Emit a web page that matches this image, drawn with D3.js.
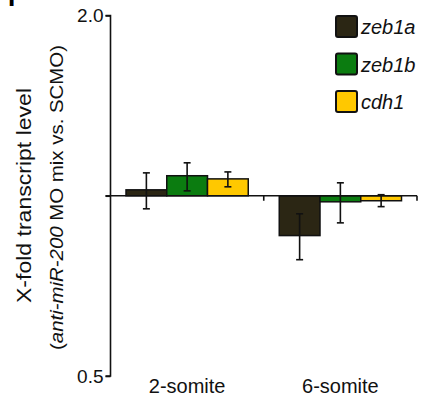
<!DOCTYPE html>
<html>
<head>
<meta charset="utf-8">
<script src="https://cdn.jsdelivr.net/npm/d3@7"></script>
<style>
  body { margin: 0; background: #fff; }
  svg { display: block; font-family: Arial, "Liberation Sans", sans-serif; }
</style>
</head>
<body>
<svg width="429" height="397"></svg>
<script>
// data (fold change, log scale)
const stages = ["2-somite", "6-somite"];
const genes = ["zeb1a", "zeb1b", "cdh1"];
const colors = ["#2b2614", "#0b7c10", "#ffc800"];
const means = [[1.023, 1.080, 1.067], [0.858, 0.977, 0.981]];
const errLo = [[0.951, 1.019, 1.035], [0.782, 0.901, 0.959]];
const errHi = [[1.092, 1.135, 1.096], [0.933, 1.051, 1.004]];
const yTicks = [0.5, 1.0, 2.0];

var svg = d3.select("svg");

const x0 = d3.scaleBand().domain(stages).range([110.5, 417]).paddingInner(0).paddingOuter(0);
const x1 = d3.scaleBand().domain(genes).range([15.5, x0.bandwidth() - 15.5]);
const y = d3.scaleLog().base(2).domain([0.5, 2]).range([376, 15.5]);

// cropped panel letter
svg.append("text").attr("x", 8).attr("y", 6).attr("font-size", 26).attr("font-weight", "bold").text("F");

// bars
stages.forEach((s, i) => {
    const g = svg.append("g").attr("transform", `translate(${x0(s)},0)`);
    g.selectAll("rect").data(genes).enter().append("rect")
        .attr("x", d => x1(d))
        .attr("width", x1.bandwidth())
        .attr("y", (d, j) => Math.min(y(means[i][j]), y(1)))
        .attr("height", (d, j) => Math.abs(y(means[i][j]) - y(1)))
        .attr("fill", (d, j) => colors[j])
        .attr("stroke", "#111")
        .attr("stroke-width", 1.5);

    const eb = g.selectAll("g.err").data(genes).enter().append("g").attr("class", "err")
        .attr("stroke", "#111").attr("stroke-width", 1.6);
    const cx = d => x1(d) + x1.bandwidth() / 2;
    eb.append("line").attr("x1", cx).attr("x2", cx)
        .attr("y1", (d, j) => y(errHi[i][j])).attr("y2", (d, j) => y(errLo[i][j]));
    eb.append("line").attr("x1", d => cx(d) - 3.5).attr("x2", d => cx(d) + 3.5)
        .attr("y1", (d, j) => y(errHi[i][j])).attr("y2", (d, j) => y(errHi[i][j]));
    eb.append("line").attr("x1", d => cx(d) - 3.5).attr("x2", d => cx(d) + 3.5)
        .attr("y1", (d, j) => y(errLo[i][j])).attr("y2", (d, j) => y(errLo[i][j]));
});

// y axis
const yAxis = svg.append("g").attr("transform", "translate(110.5,0)")
    .call(d3.axisLeft(y).tickValues(yTicks).tickSize(5).tickFormat(d => d === 1 ? "" : d3.format(".1f")(d)));
yAxis.select(".domain").attr("d", `M-5,${y(2)}H0V${y(0.5)}H-5`).attr("stroke", "#111").attr("stroke-width", 1.6);
yAxis.selectAll(".tick line").attr("stroke", "#111").attr("stroke-width", 1.6);
yAxis.selectAll(".tick text").attr("font-size", 19).attr("fill", "#111").attr("x", -7).attr("font-family", "Arial, 'Liberation Sans', sans-serif");

// baseline at 1.0 with category ticks
svg.append("line").attr("x1", 105.5).attr("x2", 417).attr("y1", y(1)).attr("y2", y(1))
    .attr("stroke", "#111").attr("stroke-width", 1.6);
stages.forEach(s => {
    const xe = x0(s) + x0.bandwidth();
    svg.append("line").attr("x1", xe).attr("x2", xe).attr("y1", y(1)).attr("y2", y(1) + 5)
        .attr("stroke", "#111").attr("stroke-width", 1.6);
});

// category labels
svg.selectAll("text.cat").data(stages).enter().append("text").attr("class", "cat")
    .attr("x", d => x0(d) + x0.bandwidth() / 2).attr("y", 393)
    .attr("text-anchor", "middle").attr("font-size", 20).attr("fill", "#111").text(d => d);

// y titles (stretched a bit along their length like the source)
svg.append("text").attr("transform", "translate(31,195.5) rotate(-90)")
    .attr("text-anchor", "middle").attr("font-size", 21).attr("fill", "#111")
    .attr("textLength", 215).attr("lengthAdjust", "spacingAndGlyphs")
    .text("X-fold transcript level");
const sub = svg.append("text").attr("transform", "translate(63,197.5) rotate(-90)")
    .attr("text-anchor", "middle").attr("font-size", 18).attr("fill", "#111")
    .attr("textLength", 305).attr("lengthAdjust", "spacingAndGlyphs");
sub.append("tspan").text("(");
sub.append("tspan").attr("font-style", "italic").text("anti-miR-200");
sub.append("tspan").text(" MO mix vs. SCMO)");

// legend
const leg = svg.selectAll("g.leg").data(genes).enter().append("g").attr("class", "leg")
    .attr("transform", (d, i) => `translate(336,${16 + i * 37.5})`);
leg.append("rect").attr("width", 21).attr("height", 21).attr("rx", 2)
    .attr("fill", (d, i) => colors[i]).attr("stroke", "#111").attr("stroke-width", 2);
leg.append("text").attr("x", 25).attr("y", 18).attr("font-size", 20).attr("font-style", "italic")
    .attr("fill", "#111").text(d => d);
</script>
</body>
</html>
